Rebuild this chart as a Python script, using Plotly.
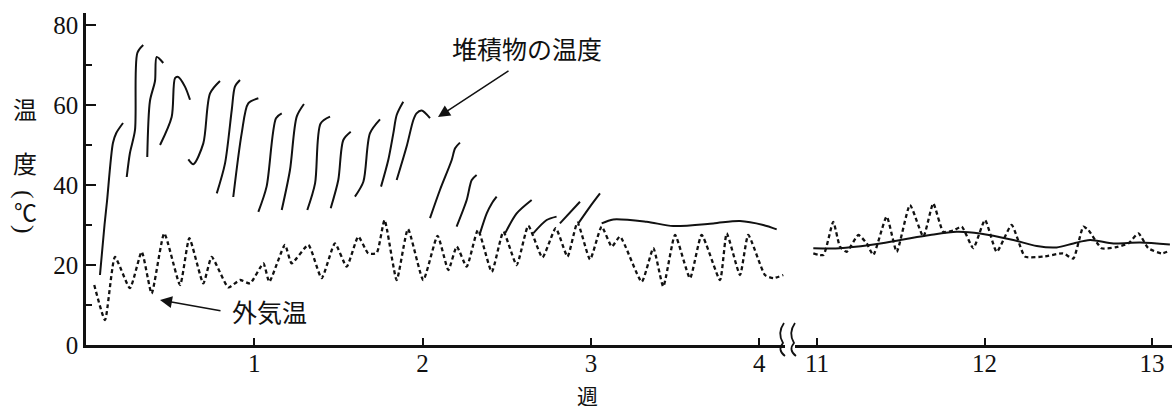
import plotly.graph_objects as go

# ---------------- data (weeks, degC) ----------------
# compost (pile) temperature, weeks 0-4: daily rising segments separated by None
compost_week_early = [
    0.083, 0.11, 0.125, 0.16, 0.18, 0.22, None,
    0.242, 0.261, 0.291, 0.305, 0.340, None,
    0.364, 0.380, 0.410, 0.420, 0.459, None,
    0.440, 0.509, 0.529, 0.548, 0.588, 0.618, None,
    0.608, 0.638, 0.697, 0.737, 0.796, None,
    0.777, 0.826, 0.866, 0.885, 0.915, None,
    0.875, 0.925, 0.964, 1.024, None,
    1.024, 1.073, 1.129, 1.163, None,
    1.163, 1.212, 1.252, 1.295, None,
    1.315, 1.361, 1.394, 1.450, None,
    1.454, 1.499, 1.529, 1.573, None,
    1.598, 1.648, 1.687, 1.747, None,
    1.753, 1.796, 1.826, 1.846, 1.885, None,
    1.846, 1.905, 1.945, 1.964, 1.994, 2.044, None,
    2.044, 2.103, 2.173, 2.193, 2.222, None,
    2.202, 2.262, 2.292, 2.321, None,
    2.341, 2.381, 2.411, 2.440, None,
    2.490, 2.559, 2.648, None,
    2.657, 2.737, 2.796, None,
    2.816, 2.935, None,
    2.925, 2.995, 3.054, None,
    3.064, 3.133, 3.331, 3.490, 3.727, 3.886, 4.024, 4.104,
]
compost_temp_early = [
    17.5, 30, 36, 50.5, 53, 55.5, None,
    42, 48, 53.7, 73, 75, None,
    47, 61, 66, 72, 70.5, None,
    50, 57, 66.7, 67, 64.6, 61.3, None,
    46.4, 45.2, 50.4, 62.9, 66, None,
    37.9, 45.4, 58.75, 64.6, 66.25, None,
    37, 52.9, 60.4, 61.7, None,
    33.3, 39.6, 56.7, 57.9, None,
    33.75, 43.75, 57.1, 60.25, None,
    33.75, 40.4, 55.4, 57.1, None,
    34.2, 41.25, 51.25, 53.3, None,
    37.1, 40.8, 52.9, 56.4, None,
    39.6, 46.25, 52.9, 57.5, 60.8, None,
    41.25, 49.6, 56.25, 57.9, 58.6, 56.7, None,
    31.7, 38.75, 46.25, 49.2, 50.6, None,
    29.6, 36.25, 41.25, 42.5, None,
    27.9, 32.9, 35.4, 37.1, None,
    27.9, 32.9, 36.25, None,
    27.9, 31.25, 32.1, None,
    30.4, 35.8, None,
    30.4, 34.6, 37.9, None,
    30.4, 31.4, 30.8, 29.75, 30.4, 31.0, 30.0, 28.9,
]

# outside air temperature, weeks 0-4
air_week_early = [
    0.049, 0.113, 0.172, 0.261, 0.331, 0.390, 0.465, 0.559, 0.614, 0.697,
    0.747, 0.846, 0.915, 0.975, 1.054, 1.089, 1.182, 1.222, 1.321, 1.400,
    1.479, 1.549, 1.618, 1.677, 1.727, 1.774, 1.846, 1.913, 2.004, 2.089,
    2.153, 2.203, 2.262, 2.329, 2.411, 2.480, 2.559, 2.628, 2.712, 2.791,
    2.861, 2.920, 2.995, 3.064, 3.124, 3.173, 3.302, 3.371, 3.430, 3.500,
    3.589, 3.658, 3.767, 3.807, 3.886, 3.935, 4.034, 4.084, 4.143,
]
air_temp_early = [
    15, 6.25, 22, 14.2, 23.3, 12.9, 27.9, 15, 26.7, 15.4,
    22, 14.4, 16.25, 15.4, 20.4, 15.8, 25, 20.4, 25, 16.7,
    25.4, 19.6, 27.1, 22.9, 23, 31.25, 16.25, 29, 16.25, 27.3,
    18.75, 24.6, 19.6, 28.75, 18.3, 28.3, 20, 29.8, 21.9, 29.2,
    22.1, 30.6, 21.4, 29.6, 24.6, 27.1, 15.8, 24.2, 14.6, 27.5,
    16.7, 27.5, 16.25, 27.9, 17.5, 27.5, 17.5, 16.7, 17.5,
]

# weeks 11-13
compost_week_late = [10.978, 11.137, 11.316, 11.515, 11.675, 11.834, 11.973, 12.172,
                     12.312, 12.431, 12.531, 12.630, 12.770, 12.928, 13.107]
compost_temp_late = [24.2, 24.2, 25.0, 26.4, 27.5, 28.3, 27.9, 26.25,
                     24.75, 24.4, 25.4, 26.25, 25.4, 25.6, 25.1]

air_week_late = [10.978, 11.038, 11.097, 11.137, 11.177, 11.247, 11.297, 11.336, 11.416,
                 11.476, 11.555, 11.635, 11.694, 11.754, 11.814, 11.864, 11.933, 12.003,
                 12.073, 12.162, 12.242, 12.351, 12.470, 12.530, 12.590, 12.620, 12.699,
                 12.779, 12.859, 12.919, 12.978, 13.058, 13.108]
air_temp_late = [22.9, 22.5, 30.8, 24.6, 23.3, 27.5, 25.4, 22.5, 32.1,
                 23.3, 35, 27.1, 35.4, 28.3, 28.6, 29.6, 24.2, 31.25,
                 23.3, 30, 22.1, 22.1, 22.9, 21.6, 29.6, 28.75, 24.2,
                 24.4, 25.4, 27.9, 24.2, 22.9, 23.6]

y_ticks = [0, 20, 40, 60, 80]
y_minor = [10, 30, 50, 70]
x_ticks_early = [1, 2, 3, 4]
x_ticks_late = [11, 12, 13]

# ---------------- layout helpers ----------------
L, R, T, B = 86, 1172, 13, 345          # plot area in pixels
def px(x):
    return (x - L) / (R - L)
def py(y):
    return (B - y) / (B - T)

INK = "#111111"
SERIF = "Liberation Serif"
JP = "Noto Sans CJK JP"

fig = go.Figure()
solid = dict(color=INK, width=2, shape="spline", smoothing=0.8)
dotted = dict(color=INK, width=2.3, dash="4px,3px", shape="spline", smoothing=0.5)

fig.add_trace(go.Scatter(x=air_week_early, y=air_temp_early, mode="lines", line=dotted,
                         xaxis="x", yaxis="y", hoverinfo="skip"))
fig.add_trace(go.Scatter(x=compost_week_early, y=compost_temp_early, mode="lines", line=solid,
                         connectgaps=False, xaxis="x", yaxis="y", hoverinfo="skip"))
fig.add_trace(go.Scatter(x=air_week_late, y=air_temp_late, mode="lines", line=dotted,
                         xaxis="x2", yaxis="y", hoverinfo="skip"))
fig.add_trace(go.Scatter(x=compost_week_late, y=compost_temp_late, mode="lines", line=solid,
                         xaxis="x2", yaxis="y", hoverinfo="skip"))

axis_common = dict(showgrid=False, zeroline=False, showline=True, linecolor=INK,
                   linewidth=2.5, ticks="inside", ticklen=7, tickwidth=1.5, tickcolor=INK,
                   ticklabelstandoff=-6,
                   tickfont=dict(family=SERIF, size=25, color=INK), fixedrange=True)

split = (785 - L) / (R - L)
start2 = (795 - L) / (R - L)

fig.update_layout(
    width=1173, height=410,
    margin=dict(l=L, r=1173 - R, t=T, b=410 - B),
    paper_bgcolor="white", plot_bgcolor="white",
    showlegend=False,
    xaxis=dict(domain=[0, split], range=[0, (785 - L) / 168.3], tickvals=x_ticks_early,
               anchor="y", **axis_common),
    xaxis2=dict(domain=[start2, 1], range=[11 - (817 - 795) / 167.5, 11 + (R - 817) / 167.5],
                tickvals=x_ticks_late, anchor="y", **axis_common),
    yaxis=dict(range=[0, 83], tickvals=y_ticks,
               minor=dict(tickvals=y_minor, ticks="inside", ticklen=6, tickwidth=1.5, tickcolor=INK),
               showgrid=False, zeroline=False, showline=True, linecolor=INK, linewidth=2.5,
               ticks="inside", ticklen=10, tickwidth=1.5, tickcolor=INK,
               tickfont=dict(family=SERIF, size=25, color=INK), fixedrange=True),
)

def label(text, x, y, font, size, **kw):
    return dict(text=text, x=px(x), y=py(y), xref="paper", yref="paper", showarrow=False,
                xanchor="center", yanchor="middle",
                font=dict(family=font, size=size, color=INK), **kw)

ann = [
    # y-axis title (vertical Japanese, parentheses turned for vertical writing)
    label("温", 25, 108, JP, 24),
    label("度", 25, 163, JP, 24),
    label("(", 25, 194, SERIF, 26, textangle=90),
    label("℃", 25, 211, JP, 23),
    label(")", 25, 229, SERIF, 26, textangle=90),
    # x-axis title
    label("週", 587, 395, JP, 21),
    # series labels
    label("堆積物の温度", 527, 48, JP, 25),
    label("外気温", 269, 311, JP, 25),
]
# arrows
ann.append(dict(text="", x=px(438), y=py(117), xref="paper", yref="paper",
                showarrow=True, ax=72, ay=-47, arrowhead=2, arrowsize=1.6, arrowwidth=1.5,
                arrowcolor=INK))
ann.append(dict(text="", x=px(160), y=py(300), xref="paper", yref="paper",
                showarrow=True, ax=62, ay=11, arrowhead=2, arrowsize=1.6, arrowwidth=1.5,
                arrowcolor=INK))
fig.update_layout(annotations=ann)

# axis break marks
def brace(x0):
    pts = [(x0 + 4, 323), (x0 - 3, 333), (x0 + 3, 343), (x0 - 3, 350), (x0 + 5, 356)]
    p = [(px(a), py(b)) for a, b in pts]
    return (f"M {p[0][0]},{p[0][1]} Q {p[1][0]},{p[1][1]} {p[2][0]},{p[2][1]} "
            f"Q {p[3][0]},{p[3][1]} {p[4][0]},{p[4][1]}")

for x0 in (780, 791):
    fig.add_shape(type="path", path=brace(x0), xref="paper", yref="paper",
                  line=dict(color=INK, width=1.8))

fig.write_html("out.html", config={"displayModeBar": False},
               post_script="document.body.style.margin='0';")
